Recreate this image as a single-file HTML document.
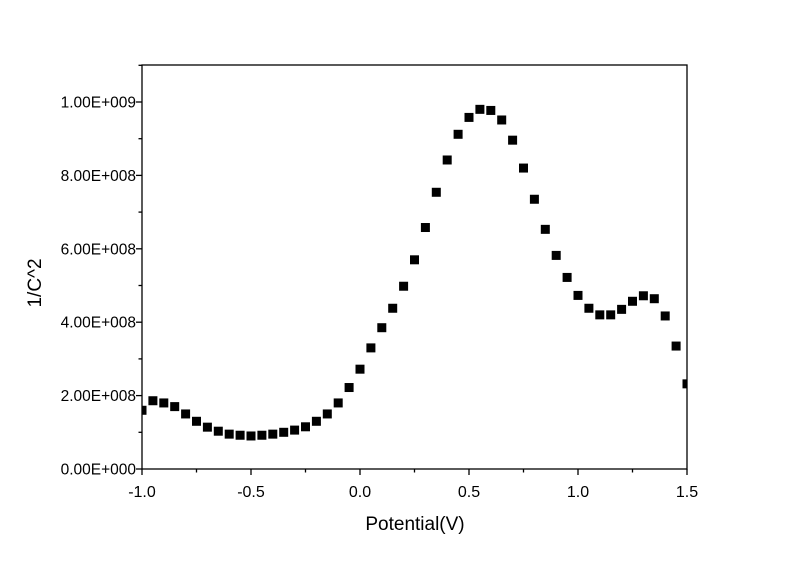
<!DOCTYPE html>
<html><head><meta charset="utf-8"><style>body{margin:0;background:#fff}text{font-family:"Liberation Sans",Arial,sans-serif}</style></head>
<body>
<svg id="chart" width="800" height="565" xmlns="http://www.w3.org/2000/svg">
<defs><clipPath id="pc"><rect x="142" y="65" width="545" height="404"/></clipPath></defs>
<rect x="0" y="0" width="800" height="565" fill="#fff"/>
<g id="marks" clip-path="url(#pc)"></g>
<g id="axes"></g>
</svg>
<script>
const xValues=[-1.0,-0.95,-0.9,-0.85,-0.8,-0.75,-0.7,-0.65,-0.6,-0.55,-0.5,-0.45,-0.4,-0.35,-0.3,-0.25,-0.2,-0.15,-0.1,-0.05,0,0.05,0.1,0.15,0.2,0.25,0.3,0.35,0.4,0.45,0.5,0.55,0.6,0.65,0.7,0.75,0.8,0.85,0.9,0.95,1.0,1.05,1.1,1.15,1.2,1.25,1.3,1.35,1.4,1.45,1.5];
const yValues=[1.60e8,1.86e8,1.80e8,1.70e8,1.50e8,1.30e8,1.14e8,1.03e8,0.95e8,0.92e8,0.90e8,0.92e8,0.95e8,1.0e8,1.06e8,1.15e8,1.30e8,1.50e8,1.80e8,2.22e8,2.72e8,3.30e8,3.85e8,4.38e8,4.98e8,5.70e8,6.58e8,7.54e8,8.42e8,9.12e8,9.58e8,9.80e8,9.77e8,9.51e8,8.96e8,8.20e8,7.35e8,6.53e8,5.82e8,5.22e8,4.73e8,4.38e8,4.20e8,4.20e8,4.35e8,4.57e8,4.72e8,4.64e8,4.17e8,3.35e8,2.32e8];
const xTicks=[-1.0,-0.5,0.0,0.5,1.0,1.5];
const xTickLabels=["-1.0","-0.5","0.0","0.5","1.0","1.5"];
const yTicks=[0,2e8,4e8,6e8,8e8,1e9];
const yTickLabels=["0.00E+000","2.00E+008","4.00E+008","6.00E+008","8.00E+008","1.00E+009"];
const X0=142,X1=687,Y0=469,YT=65;
const sx=v=>X0+(v+1)/2.5*(X1-X0);
const sy=v=>Y0-v/1e9*367;
const NS="http://www.w3.org/2000/svg";
function mk(t,a,p){const e=document.createElementNS(NS,t);for(const k in a)e.setAttribute(k,a[k]);p.appendChild(e);return e;}
const ax=document.getElementById('axes'),mg=document.getElementById('marks');
const frame=mk('rect',{x:X0,y:YT,width:X1-X0,height:Y0-YT,fill:'none',stroke:'#000','stroke-width':1.3},ax);


for(let v=-1;v<=1.5001;v+=0.25){const x=sx(v);const major=Math.abs(v*2-Math.round(v*2))<1e-6;mk('line',{x1:x,x2:x,y1:Y0,y2:Y0+(major?6:3.5),stroke:'#000','stroke-width':1.3},ax);}
for(let v=0;v<=1.1e9;v+=1e8){const y=sy(v);const major=Math.round(v/1e8)%2===0;mk('line',{x1:X0,x2:X0-(major?6:3.5),y1:y,y2:y,stroke:'#000','stroke-width':1.3},ax);}
xTicks.forEach((v,i)=>{const t=mk('text',{x:sx(v),y:Y0+28,'text-anchor':'middle','font-size':16},ax);t.textContent=xTickLabels[i];

});
yTicks.forEach((v,i)=>{const t=mk('text',{x:X0-6,y:sy(v)+5.5,'text-anchor':'end','font-size':15.5},ax);t.textContent=yTickLabels[i];

});
const xt=mk('text',{x:415,y:530,'text-anchor':'middle','font-size':19},ax);xt.textContent='Potential(V)';


const yt=mk('text',{x:41,y:283,'text-anchor':'middle','font-size':19,transform:'rotate(-90 41 283)'},ax);yt.textContent='1/C^2';


xValues.forEach((v,i)=>{const r=mk('rect',{x:sx(v)-4.5,y:sy(yValues[i])-4.5,width:9,height:9,fill:'#000'},mg);

});
</script>
</body></html>
